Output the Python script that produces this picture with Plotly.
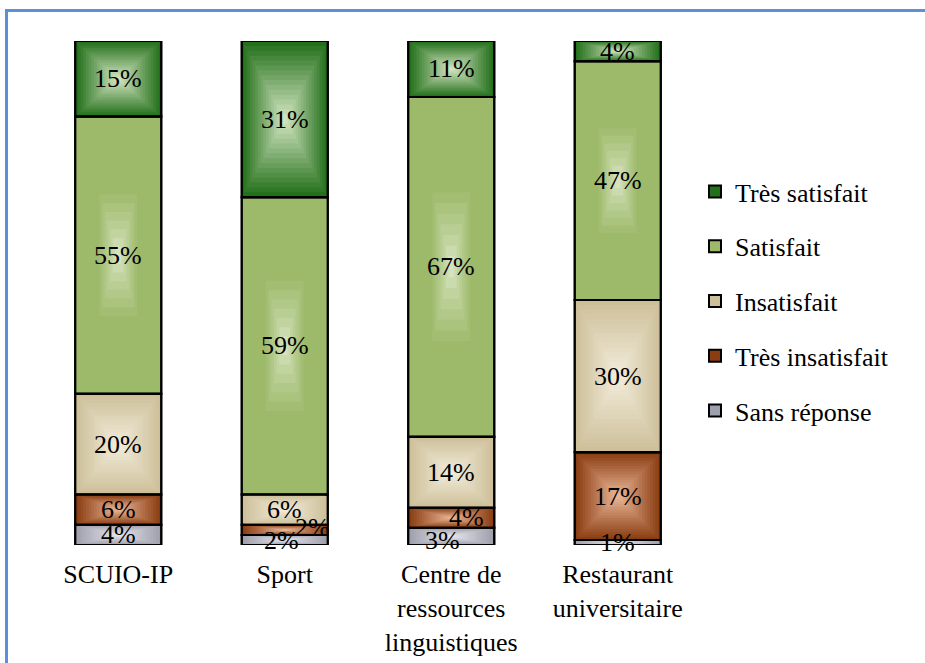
import plotly.graph_objects as go

# ---------------- data ----------------
categories = ["SCUIO-IP", "Sport", "Centre de<br>ressources<br>linguistiques", "Restaurant<br>universitaire"]
series_names = ["Sans réponse", "Très insatisfait", "Insatisfait", "Satisfait", "Très satisfait"]
sans_reponse = [4, 2, 3.4, 1.0]
tres_insatisfait = [6, 2, 4.0, 17.4]
insatisfait = [20, 6, 14.1, 30.2]
satisfait = [55, 59, 67.4, 47.4]
tres_satisfait = [15, 31, 11.1, 4.0]
series_values = [sans_reponse, tres_insatisfait, insatisfait, satisfait, tres_satisfait]

# ---------------- styles ----------------
FONT = "'Times New Roman', 'Liberation Serif', serif"
FS = 26
BAR_W = 0.517
N_LEVELS = 16
# (outer colour, centre colour, fraction of size where gradient starts, curve exponent)
grad = {
    "Très satisfait": ("#23701b", "#dbeac8", 1.0, 1.0),
    "Satisfait": ("#9dba6a", "#eef4e3", 0.5, 0.6),
    "Insatisfait": ("#cdbf99", "#f3eedd", 1.0, 1.0),
    "Très insatisfait": ("#8b3d12", "#ecbb9c", 1.0, 1.0),
    "Sans réponse": ("#9fa0ad", "#e8e8ee", 1.0, 1.0),
}
# label pixel offsets (series, category index) -> (dx, dy)
label_shift = {
    ("Très insatisfait", 1): (28, 2),
    ("Sans réponse", 1): (-3, -1),
    ("Très insatisfait", 2): (15, 0),
    ("Sans réponse", 2): (-9, -4),
}

W, H = 925, 663
ML, MR, MT, MB = 35, 224, 41, 118
PW, PH = W - ML - MR, H - MT - MB


def hex2rgb(h):
    h = h.lstrip("#")
    return tuple(int(h[i:i + 2], 16) for i in (0, 2, 4))


def col_at(name, f):
    outer, inner, start, ex = grad[name]
    o, i = hex2rgb(outer), hex2rgb(inner)
    if f >= start:
        return outer
    t = (f / start) ** ex
    c = [round(i[j] + (o[j] - i[j]) * t) for j in range(3)]
    return "rgb(%d,%d,%d)" % tuple(c)


# cumulative bases
bases = []
run = [0.0] * len(categories)
for vals in series_values:
    bases.append(run[:])
    run = [run[j] + vals[j] for j in range(len(categories))]

fig = go.Figure()

# base fills (also legend entries)
for idx, (name, vals, base) in enumerate(zip(series_names, series_values, bases)):
    fig.add_trace(go.Bar(
        x=categories, y=vals, base=base, width=BAR_W, name=name,
        marker=dict(color=grad[name][0], line=dict(color="black", width=2)),
        hoverinfo="skip", legendrank=100 - idx, legendgroup="g%d" % idx,
    ))

# rectangular gradient levels
for name, vals, base in zip(series_names, series_values, bases):
    for k in range(1, N_LEVELS):
        f = 1 - k / N_LEVELS
        if f >= grad[name][2]:
            continue
        fig.add_trace(go.Bar(
            x=categories, y=[v * f for v in vals],
            base=[b + v * (1 - f) / 2 for b, v in zip(base, vals)],
            width=BAR_W * f, showlegend=False, hoverinfo="skip",
            marker=dict(color=col_at(name, f), line=dict(width=0)),
        ))

# outlines on top
for name, vals, base in zip(series_names, series_values, bases):
    fig.add_trace(go.Bar(
        x=categories, y=vals, base=base, width=BAR_W, showlegend=False,
        hoverinfo="skip",
        marker=dict(color="rgba(0,0,0,0)", line=dict(color="black", width=2)),
    ))

# percentage labels
for name, vals, base in zip(series_names, series_values, bases):
    for j, (v, b) in enumerate(zip(vals, base)):
        dx, dy = label_shift.get((name, j), (0, 0))
        fig.add_annotation(
            x=categories[j], y=b + v / 2, text="%d%%" % round(v),
            showarrow=False, xshift=dx, yshift=dy,
            font=dict(family=FONT, size=FS, color="black"),
        )


# blue frame (top and left edges visible)
def px_x(p):
    return (p - ML) / PW


def px_y(p):
    return (H - MB - p) / PH


frame = "#5b8fd7"
fig.add_shape(type="line", xref="paper", yref="paper", x0=px_x(5), x1=px_x(930),
              y0=px_y(10.5), y1=px_y(10.5), line=dict(color=frame, width=3))
fig.add_shape(type="line", xref="paper", yref="paper", x0=px_x(6.5), x1=px_x(6.5),
              y0=px_y(9), y1=px_y(670), line=dict(color=frame, width=3))

fig.update_layout(
    width=W, height=H,
    margin=dict(l=ML, r=MR, t=MT, b=MB, autoexpand=False),
    barmode="overlay",
    plot_bgcolor="white", paper_bgcolor="white",
    font=dict(family=FONT, size=FS, color="black"),
    showlegend=True,
    legend=dict(
        x=px_x(695), xanchor="left", y=px_y(301), yanchor="middle",
        font=dict(family=FONT, size=FS, color="black"),
        tracegroupgap=18, bgcolor="rgba(0,0,0,0)", traceorder="grouped",
    ),
)

fig.update_xaxes(showgrid=False, showline=False, zeroline=False, ticks="",
                 tickfont=dict(family=FONT, size=FS, color="black"),
                 ticklabelstandoff=11, range=[-0.5, 3.5], automargin=False)
fig.update_yaxes(range=[0, 100], visible=False, showgrid=False, automargin=False)

fig.write_html("out.html", config={"displayModeBar": False},
               post_script="document.body.style.margin='0';")
